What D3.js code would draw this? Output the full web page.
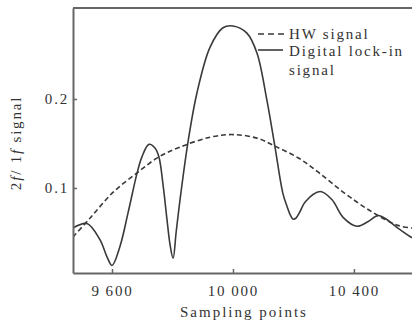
<!DOCTYPE html>
<html>
<head>
<meta charset="utf-8">
<script src="https://cdn.jsdelivr.net/npm/d3@7"></script>
<style>
  body { margin: 0; background: #fff; }
  svg { display: block; }
  text { font-family: "Liberation Serif", "DejaVu Serif", serif; fill: #333; }
</style>
</head>
<body>
<div id="chart"></div>
<script>
const width = 412,
  height = 324,
  margin = { left: 73, right: 0, top: 8, bottom: 51 };

// sampling points and signals
const hwX = [9471, 9527, 9603, 9683, 9755, 9825, 9924, 10000, 10079, 10139, 10215, 10281, 10370, 10460, 10545, 10592];
const hwY = [0.045, 0.066, 0.095, 0.117, 0.135, 0.146, 0.157, 0.160, 0.156, 0.147, 0.134, 0.118, 0.094, 0.073, 0.058, 0.055];

const lockX = [9471, 9517, 9560, 9583, 9600, 9626, 9653, 9683, 9699, 9722, 9742, 9755, 9769, 9782, 9792, 9802, 9812, 9825, 9851, 9881, 9924, 9967, 10000, 10046, 10079, 10112, 10139, 10165, 10179, 10189, 10199, 10208, 10221, 10238, 10288, 10327, 10364, 10410, 10446, 10479, 10502, 10545, 10592];
const lockY = [0.055, 0.060, 0.042, 0.023, 0.013, 0.034, 0.072, 0.117, 0.135, 0.149, 0.145, 0.135, 0.103, 0.064, 0.036, 0.021, 0.050, 0.087, 0.151, 0.207, 0.258, 0.280, 0.282, 0.274, 0.252, 0.199, 0.146, 0.094, 0.079, 0.070, 0.065, 0.066, 0.073, 0.084, 0.096, 0.087, 0.067, 0.057, 0.062, 0.069, 0.066, 0.055, 0.044];

const xTicks = [9600, 10000, 10400];
const yTicks = [0.1, 0.2];
const legendLabels = ["HW signal", "Digital lock-in", "signal"];

const xScale = d3.scaleLinear().domain([9471, 10592]).range([margin.left, width - margin.right]);
const yScale = d3.scaleLinear().domain([0.0045, 0.3022]).range([height - margin.bottom, margin.top]);

const svg = d3.select("#chart").append("svg")
  .attr("width", width).attr("height", height)
  .attr("viewBox", `0 0 ${width} ${height}`);

svg.append("defs").append("clipPath").attr("id", "clip")
  .append("rect")
  .attr("x", margin.left).attr("y", margin.top)
  .attr("width", width - margin.left - margin.right)
  .attr("height", height - margin.top - margin.bottom);

const line = d3.line()
  .x((d) => xScale(d[0]))
  .y((d) => yScale(d[1]))
  .curve(d3.curveCatmullRom.alpha(0.5));

const plot = svg.append("g").attr("clip-path", "url(#clip)");

plot.append("path")
  .datum(d3.zip(hwX, hwY))
  .attr("d", line)
  .attr("fill", "none")
  .attr("stroke", "#3a3a3a")
  .attr("stroke-width", 1.6)
  .attr("stroke-dasharray", "5,3");

plot.append("path")
  .datum(d3.zip(lockX, lockY))
  .attr("d", line)
  .attr("fill", "none")
  .attr("stroke", "#3a3a3a")
  .attr("stroke-width", 1.6);

const fmt = (d) => d3.format(",")(d).replace(",", "\u2009");

const xAxis = svg.append("g")
  .attr("transform", `translate(0,${height - margin.bottom})`)
  .call(d3.axisBottom(xScale).tickValues(xTicks).tickSizeInner(-4).tickSizeOuter(0).tickPadding(12).tickFormat(fmt));

const yAxis = svg.append("g")
  .attr("transform", `translate(${margin.left},0)`)
  .call(d3.axisLeft(yScale).tickValues(yTicks).tickSizeInner(-4).tickSizeOuter(0).tickPadding(4).tickFormat(d3.format(".1f")));

[xAxis, yAxis].forEach((g) => {
  g.select(".domain").attr("stroke", "#666").attr("stroke-width", 2);
  g.selectAll(".tick line").attr("stroke", "#666").attr("stroke-width", 1.5);
  g.selectAll(".tick text")
    .attr("fill", "#333")
    .style("font-family", "Liberation Serif, serif")
    .style("font-size", "15px")
    .style("letter-spacing", "1.8px");
});

// top frame line
svg.append("line")
  .attr("x1", margin.left).attr("x2", width)
  .attr("y1", margin.top).attr("y2", margin.top)
  .attr("stroke", "#666").attr("stroke-width", 2);

svg.append("text")
  .attr("x", 244).attr("y", 317)
  .attr("text-anchor", "middle")
  .style("font-size", "15px")
  .style("letter-spacing", "2px")
  .text("Sampling points");

const yLabel = svg.append("text")
  .attr("transform", "translate(21,143) rotate(-90)")
  .attr("text-anchor", "middle")
  .style("font-size", "15px")
  .style("letter-spacing", "1.8px");
yLabel.append("tspan").text("2");
yLabel.append("tspan").style("font-style", "italic").text("f");
yLabel.append("tspan").text("/ 1");
yLabel.append("tspan").style("font-style", "italic").text("f");
yLabel.append("tspan").text(" signal");

// legend
const legend = svg.append("g");
legend.append("line")
  .attr("x1", 258).attr("x2", 287).attr("y1", 34).attr("y2", 34)
  .attr("stroke", "#3a3a3a").attr("stroke-width", 1.6)
  .attr("stroke-dasharray", "6,4");
legend.append("line")
  .attr("x1", 258).attr("x2", 283).attr("y1", 50).attr("y2", 50)
  .attr("stroke", "#3a3a3a").attr("stroke-width", 1.6);
legend.selectAll("text.lg")
  .data(legendLabels)
  .enter()
  .append("text")
  .attr("class", "lg")
  .attr("x", 289)
  .attr("y", (d, i) => [39, 56, 75][i])
  .style("font-size", "15px")
  .style("letter-spacing", "1.8px")
  .text((d) => d);
</script>
</body>
</html>
